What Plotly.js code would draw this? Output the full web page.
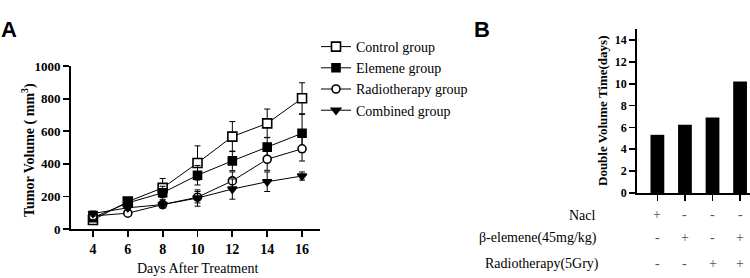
<!DOCTYPE html>
<html>
<head>
<meta charset="utf-8">
<script src="https://cdn.plot.ly/plotly-3.0.1.min.js"></script>
<style>html,body{margin:0;padding:0;background:#fff;}#chart{width:750px;height:278px;}</style>
</head>
<body>
<div id="chart"></div>
<script>
// ---- Panel A data ----
const days = [4, 6, 8, 10, 12, 14, 16];
const controlMean = [55, 168, 252, 405, 567, 648, 802];
const controlErr = [15, 20, 58, 105, 92, 88, 95];
const elemeneMean = [70, 160, 222, 330, 418, 502, 587];
const elemeneErr = [15, 18, 40, 60, 60, 60, 116];
const radioMean = [80, 97, 150, 195, 295, 428, 492];
const radioErr = [15, 12, 20, 35, 55, 68, 75];
const combinedMean = [95, 130, 150, 190, 245, 290, 325];
const combinedErr = [15, 15, 20, 50, 62, 60, 25];
const groupNames = ["Control group", "Elemene group", "Radiotherapy group", "Combined group"];
const yTicksA = [0, 200, 400, 600, 800, 1000];

// ---- Panel B data ----
const barPos = [0, 1, 2, 3];
const doubleTime = [5.32, 6.24, 6.91, 10.2];
const yTicksB = [0, 2, 4, 6, 8, 10, 12, 14];
const rowLabels = ["Nacl", "\u03b2-elemene(45mg/kg)", "Radiotherapy(5Gry)"];
const naclRow = ["+", "-", "-", "-"];
const elemeneRow = ["-", "+", "-", "+"];
const radioRow = ["-", "-", "+", "+"];

const W = 750, H = 278;
const px = x => x / W;
const py = y => (H - y) / H;
const serif = "Liberation Serif";

function series(name, y, err, symbol, fill, size, idx) {
  return {
    type: "scatter", mode: "lines+markers", name: name,
    x: days, y: y, xaxis: "x", yaxis: "y",
    legendgroup: "g" + idx,
    line: {color: "#000", width: 1},
    marker: {symbol: symbol, size: size, color: fill, line: {color: "#000", width: 1.6}},
    error_y: {type: "data", array: err, visible: true, color: "#000", thickness: 1, width: 3},
    cliponaxis: false
  };
}

const traces = [
  series(groupNames[0], controlMean, controlErr, "square", "#fff", 9, 0),
  series(groupNames[1], elemeneMean, elemeneErr, "square", "#000", 8, 1),
  series(groupNames[2], radioMean, radioErr, "circle", "#fff", 8, 2),
  series(groupNames[3], combinedMean, combinedErr, "triangle-down", "#000", 8, 3),
  {
    type: "bar", x: barPos, y: doubleTime, xaxis: "x2", yaxis: "y2",
    width: 0.5, marker: {color: "#000"}, showlegend: false
  }
];

function ann(text, x, y, opts) {
  return Object.assign({text: text, x: x, y: y, xref: "paper", yref: "paper", showarrow: false,
    xanchor: "center", yanchor: "middle"}, opts);
}

const annotations = [
  ann("<b>A</b>", px(9), py(29), {font: {family: "Liberation Sans", size: 22, color: "#000"}}),
  ann("<b>B</b>", px(482), py(29), {font: {family: "Liberation Sans", size: 22, color: "#000"}}),
  ann("<b>Tumor Volume ( mm<sup>3</sup>)</b>", px(28), py(150), {textangle: -90,
    font: {family: serif, size: 14, color: "#000"}}),
  ann("Days After Treatment", px(197), py(268), {font: {family: serif, size: 14, color: "#000"}}),
  ann("<b>Double Volume Time(days)</b>", px(603), py(111), {textangle: -90,
    font: {family: serif, size: 13, color: "#000"}})
];

const rowY = [215, 238, 264];
const rowX = [567, 477, 483];
const rows = [naclRow, elemeneRow, radioRow];
rowLabels.forEach((lab, i) => {
  annotations.push(ann(lab, px(rowX[i]), py(rowY[i]), {xanchor: "left",
    font: {family: serif, size: 14, color: "#000"}}));
  rows[i].forEach((s, j) => {
    annotations.push(ann(s, barPos[j], py(rowY[i] - 1), {xref: "x2",
      font: {family: serif, size: 14, color: "#555"}}));
  });
});

const axisCommon = {
  showline: true, linecolor: "#000", linewidth: 1.8, ticks: "outside", ticklen: 6, tickwidth: 1.8,
  tickcolor: "#000", showgrid: false, zeroline: false, fixedrange: true
};

const layout = {
  width: W, height: H, margin: {l: 0, r: 0, t: 0, b: 0},
  paper_bgcolor: "#fff", plot_bgcolor: "rgba(0,0,0,0)",
  showlegend: true,
  legend: {x: px(316), y: py(31), xanchor: "left", yanchor: "top", xref: "paper", yref: "paper",
           font: {family: serif, size: 14, color: "#000"}, tracegroupgap: 7, traceorder: "normal",
           bgcolor: "rgba(0,0,0,0)", itemwidth: 30},
  xaxis: Object.assign({}, axisCommon, {
    domain: [px(71), px(320)], range: [2.74, 17.03], tickvals: days, anchor: "y",
    tickfont: {family: serif, size: 14, color: "#000", weight: "bold"}
  }),
  yaxis: Object.assign({}, axisCommon, {
    domain: [py(229), py(66)], range: [0, 1000], tickvals: yTicksA, anchor: "x",
    tickfont: {family: serif, size: 13, color: "#000", weight: "bold"}
  }),
  xaxis2: Object.assign({}, axisCommon, {
    domain: [px(637), 1], range: [-0.74, 3.36], tickvals: barPos, showticklabels: false, anchor: "y2"
  }),
  yaxis2: Object.assign({}, axisCommon, {
    domain: [py(193), py(29)], range: [0, 15], tickvals: yTicksB, anchor: "x2",
    tickfont: {family: serif, size: 12, color: "#000", weight: "bold"}
  }),
  annotations: annotations
};

Plotly.newPlot("chart", traces, layout, {staticPlot: true, displayModeBar: false});
</script>
</body>
</html>
